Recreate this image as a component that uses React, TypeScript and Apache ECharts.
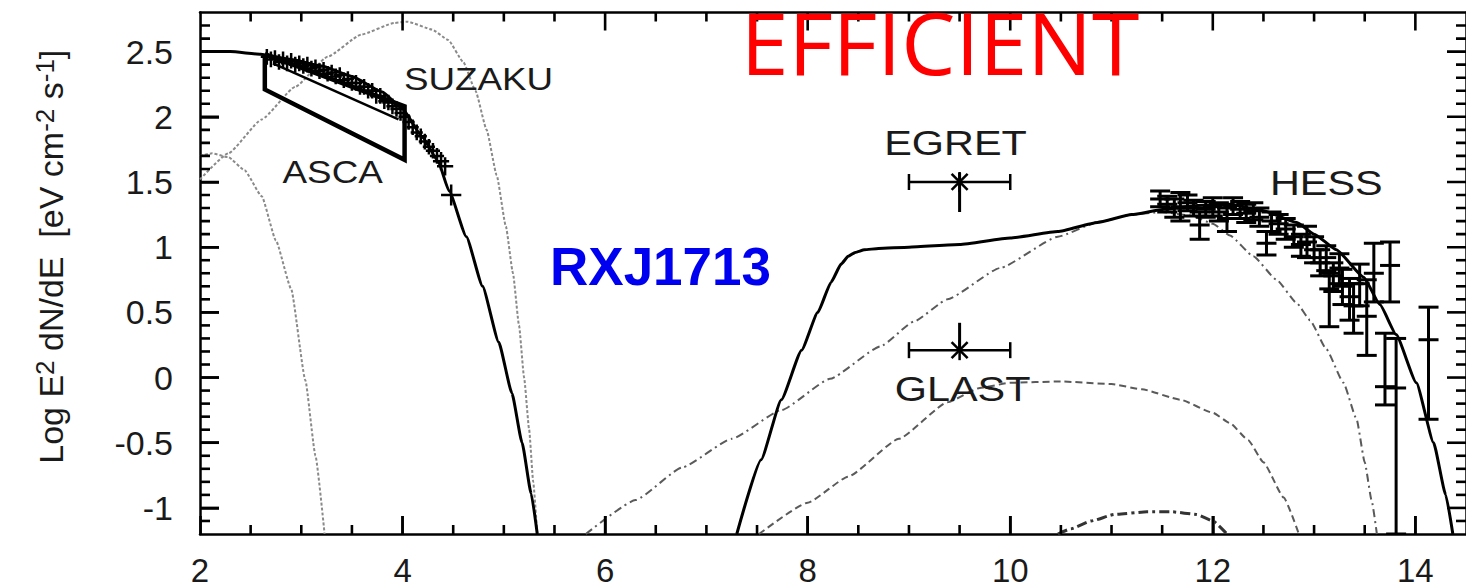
import React, { useEffect, useRef } from "react";
import * as echarts from "echarts";

// ---------- axis ranges / ticks ----------
const X_MIN = 2;
const X_MAX = 14.5;
const Y_MIN = -1.2;
const Y_MAX = 2.8;
const X_MAJOR = [2, 4, 6, 8, 10, 12, 14];
const X_MINOR = [2.5, 3, 3.5, 4.5, 5, 5.5, 6.5, 7, 7.5, 8.5, 9, 9.5, 10.5, 11, 11.5, 12.5, 13, 13.5];
const Y_MAJOR = [-1, -0.5, 0, 0.5, 1, 1.5, 2, 2.5];
const Y_MINOR = [-1.1, -0.9, -0.8, -0.7, -0.6, -0.4, -0.3, -0.2, -0.1, 0.1, 0.2, 0.3, 0.4, 0.6, 0.7, 0.8, 0.9,
  1.1, 1.2, 1.3, 1.4, 1.6, 1.7, 1.8, 1.9, 2.1, 2.2, 2.3, 2.4, 2.6, 2.7];

// ---------- model curves ----------
const MODEL_LOW_X = [2.0, 2.3, 2.6, 2.9, 3.2, 3.5, 3.8, 4.0, 4.2, 4.35, 4.46, 4.63, 4.79, 4.95, 5.08, 5.18, 5.27, 5.33];
const MODEL_LOW_Y = [2.50, 2.50, 2.48, 2.44, 2.39, 2.31, 2.19, 2.06, 1.84, 1.66, 1.43, 1.08, 0.70, 0.27, -0.12, -0.50, -0.89, -1.2];

const MODEL_HIGH_X = [7.30, 7.54, 7.74, 7.94, 8.10, 8.23, 8.33, 8.40, 8.47, 8.56, 8.7, 9.0, 9.5, 10.0, 10.47, 10.86, 11.2, 11.52, 11.85,
  12.17, 12.5, 12.83, 13.0, 13.22, 13.49, 13.65, 13.81, 14.01, 14.18, 14.30, 14.37];
const MODEL_HIGH_Y = [-1.2, -0.63, -0.17, 0.21, 0.50, 0.73, 0.87, 0.93, 0.96, 0.98, 0.99, 1.0, 1.02, 1.07, 1.12, 1.19, 1.25, 1.29, 1.32,
  1.33, 1.28, 1.19, 1.10, 0.98, 0.77, 0.56, 0.33, -0.04, -0.50, -0.90, -1.2];

const SYNCH_WIDE_X = [2.0, 2.28, 2.61, 2.94, 3.26, 3.59, 3.92, 4.05, 4.29, 4.45, 4.60, 4.72, 4.83, 4.93, 5.02, 5.09, 5.15, 5.20, 5.25, 5.29, 5.33];
const SYNCH_WIDE_Y = [1.52, 1.72, 1.98, 2.23, 2.46, 2.63, 2.72, 2.73, 2.67, 2.59, 2.42, 2.20, 1.90, 1.55, 1.16, 0.80, 0.40, 0.0, -0.40, -0.80, -1.2];

const SYNCH_NARROW_X = [2.0, 2.12, 2.28, 2.44, 2.61, 2.75, 2.90, 3.04, 3.14, 3.23];
const SYNCH_NARROW_Y = [1.70, 1.72, 1.69, 1.59, 1.39, 1.05, 0.68, -0.02, -0.60, -1.2];

const IC_UPPER_X = [5.81, 6.3, 6.76, 7.25, 7.74, 8.22, 8.72, 9.05, 9.38, 9.9, 10.47, 10.86, 11.2, 11.5, 11.8, 12.0, 12.17,
  12.4, 12.63, 12.83, 12.96, 13.12, 13.29, 13.42, 13.50, 13.57, 13.62];
const IC_UPPER_Y = [-1.2, -0.94, -0.69, -0.47, -0.25, -0.01, 0.24, 0.43, 0.60, 0.84, 1.08, 1.19, 1.25, 1.27, 1.24, 1.18, 1.09,
  0.93, 0.75, 0.57, 0.44, 0.22, -0.04, -0.32, -0.65, -0.95, -1.2];

const IC_LOWER_X = [7.52, 8.0, 8.40, 8.9, 9.38, 9.7, 10.0, 10.5, 11.0, 11.3, 11.68, 12.0, 12.17, 12.35, 12.5, 12.7, 12.85];
const IC_LOWER_Y = [-1.2, -0.96, -0.76, -0.47, -0.19, -0.08, -0.04, -0.03, -0.05, -0.09, -0.17, -0.27, -0.35, -0.48, -0.65, -0.92, -1.2];

const HUMP_X = [10.47, 10.6, 10.8, 11.03, 11.35, 11.6, 11.84, 12.0, 12.14];
const HUMP_Y = [-1.2, -1.16, -1.10, -1.05, -1.03, -1.03, -1.05, -1.10, -1.2];

// ---------- ASCA bow-tie ----------
const ASCA_X = [2.64, 4.02, 4.02, 2.64, 2.64];
const ASCA_Y = [2.48, 2.08, 1.67, 2.21, 2.48];
const ASCA_INNER_X = [2.72, 3.96];
const ASCA_INNER_Y = [2.41, 1.98];

// ---------- SUZAKU data ----------
const SUZAKU_X = [2.66, 2.70, 2.74, 2.78, 2.82, 2.86, 2.90, 2.94, 2.98, 3.02, 3.06, 3.10, 3.14, 3.18, 3.22, 3.26, 3.30,
  3.34, 3.38, 3.42, 3.46, 3.50, 3.54, 3.58, 3.62, 3.66, 3.70, 3.74, 3.78, 3.82, 3.86, 3.90, 3.94, 3.98, 4.02, 4.06,
  4.10, 4.14, 4.18, 4.22, 4.26, 4.30, 4.34, 4.38, 4.42, 4.48];
const SUZAKU_Y = [2.46, 2.44, 2.45, 2.42, 2.44, 2.41, 2.43, 2.40, 2.41, 2.39, 2.40, 2.37, 2.38, 2.35, 2.36, 2.33, 2.34,
  2.31, 2.32, 2.28, 2.29, 2.26, 2.26, 2.23, 2.23, 2.20, 2.20, 2.16, 2.16, 2.12, 2.11, 2.08, 2.06, 2.03, 2.00, 1.96,
  1.92, 1.88, 1.85, 1.81, 1.77, 1.74, 1.70, 1.66, 1.62, 1.40];
const SUZAKU_XERR = [0.06, 0.06, 0.06, 0.06, 0.06, 0.06, 0.06, 0.06, 0.06, 0.06, 0.06, 0.06, 0.06, 0.06, 0.06, 0.06, 0.06,
  0.06, 0.06, 0.06, 0.06, 0.06, 0.06, 0.06, 0.06, 0.06, 0.06, 0.06, 0.06, 0.06, 0.06, 0.06, 0.06, 0.06, 0.06, 0.06,
  0.06, 0.06, 0.06, 0.06, 0.06, 0.07, 0.07, 0.08, 0.08, 0.10];
const SUZAKU_YERR = [0.06, 0.06, 0.06, 0.06, 0.06, 0.06, 0.06, 0.06, 0.06, 0.06, 0.06, 0.06, 0.06, 0.06, 0.06, 0.06, 0.06,
  0.06, 0.06, 0.06, 0.06, 0.06, 0.06, 0.06, 0.06, 0.06, 0.06, 0.06, 0.06, 0.06, 0.06, 0.06, 0.06, 0.06, 0.06, 0.06,
  0.06, 0.06, 0.06, 0.06, 0.06, 0.06, 0.06, 0.07, 0.07, 0.08];

// ---------- HESS data ----------
const HESS_X = [11.48, 11.55, 11.62, 11.68, 11.75, 11.81, 11.87, 11.93, 12.00, 12.06, 12.14, 12.20, 12.27, 12.33, 12.40,
  12.46, 12.53, 12.58, 12.65, 12.72, 12.80, 12.87, 12.93, 13.00, 13.06, 13.12, 13.15, 13.19, 13.25, 13.28, 13.35, 13.39,
  13.45, 13.52, 13.59, 13.70, 13.75, 13.81, 14.13];
const HESS_Y = [1.37, 1.33, 1.30, 1.31, 1.34, 1.30, 1.17, 1.29, 1.31, 1.27, 1.22, 1.32, 1.29, 1.26, 1.28,
  1.23, 1.03, 1.20, 1.18, 1.14, 1.08, 1.02, 1.04, 0.98, 0.88, 0.92, 0.68, 0.78, 0.84, 0.70, 0.62, 0.55,
  0.72, 0.47, 0.80, -0.07, 0.86, -0.08, 0.29];
const HESS_LO = [1.31, 1.27, 1.23, 1.20, 1.28, 1.24, 1.06, 1.23, 1.24, 1.20, 1.12, 1.25, 1.22, 1.19, 1.21,
  1.16, 0.94, 1.12, 1.10, 1.06, 1.00, 0.93, 0.92, 0.88, 0.78, 0.82, 0.39, 0.66, 0.72, 0.56, 0.44, 0.34,
  0.55, 0.17, 0.58, -0.21, 0.58, -1.2, -0.32];
const HESS_HI = [1.43, 1.39, 1.37, 1.42, 1.40, 1.36, 1.27, 1.35, 1.38, 1.34, 1.30, 1.38, 1.35, 1.33, 1.34,
  1.30, 1.12, 1.27, 1.25, 1.22, 1.17, 1.10, 1.16, 1.08, 0.98, 1.01, 0.80, 0.88, 0.95, 0.83, 0.76, 0.72,
  0.87, 0.75, 1.03, 0.34, 1.04, 0.30, 0.54];

// ---------- EGRET / GLAST ----------
const GAMMA_NAMES = ["EGRET", "GLAST"];
const GAMMA_X = [9.5, 9.5];
const GAMMA_Y = [1.50, 0.21];
const GAMMA_XLO = [9.0, 9.0];
const GAMMA_XHI = [10.0, 10.0];
const GAMMA_YLO = [1.27, 0.21];
const GAMMA_YHI = [1.57, 0.42];

// ---------- annotation labels ----------
const LABEL_TEXT = ["SUZAKU", "ASCA", "EGRET", "GLAST", "HESS"];
const LABEL_X = [4.75, 3.31, 9.46, 9.53, 13.12];
const LABEL_Y = [2.29, 1.58, 1.80, -0.08, 1.50];
const LABEL_SIZE = [32, 32, 36, 36, 36];

const FONT = '"Liberation Sans", Arial, sans-serif';
const zip = (xs: number[], ys: number[]) => xs.map((x, i) => [x, ys[i]]);

function lineSeries(name: string, xs: number[], ys: number[], style: any, extra: any = {}) {
  return {
    name,
    type: "line",
    data: zip(xs, ys),
    symbol: "none",
    smooth: 0.15,
    smoothMonotone: "x",
    lineStyle: style,
    z: 3,
    silent: true,
    ...extra,
  };
}

const LINE_STYLE = { color: "#000", width: 2.5 };

// plot layout (pixels)
const GRID_LEFT = 200;
const GRID_TOP = 12.5;
const GRID_W = 1270;
const GRID_H = 521.5;

export default function App() {
  const ref = useRef<HTMLDivElement>(null);

  useEffect(() => {
    if (!ref.current) return;
    const chart = echarts.init(ref.current, null, { renderer: "svg" });

    const barStyle = { stroke: "#000", lineWidth: 3 };

    // tick rows: [x, y, kind (0 = x tick, 1 = y tick), side (0 = low, 1 = high), length px]
    const tickRows: number[][] = [];
    X_MAJOR.forEach((v) => { tickRows.push([v, Y_MIN, 0, 0, 18]); tickRows.push([v, Y_MAX, 0, 1, 18]); });
    X_MINOR.forEach((v) => { tickRows.push([v, Y_MIN, 0, 0, 9]); tickRows.push([v, Y_MAX, 0, 1, 9]); });
    Y_MAJOR.forEach((v) => { tickRows.push([X_MIN, v, 1, 0, 19]); tickRows.push([X_MAX, v, 1, 1, 19]); });
    Y_MINOR.forEach((v) => { tickRows.push([X_MIN, v, 1, 0, 10]); tickRows.push([X_MAX, v, 1, 1, 10]); });

    const option: any = {
      animation: false,
      backgroundColor: "#ffffff",
      grid: { left: GRID_LEFT, top: GRID_TOP, width: GRID_W, height: GRID_H },
      xAxis: [
        {
          type: "value",
          position: "bottom",
          min: X_MIN,
          max: X_MAX,
          axisLine: { show: true, onZero: false, lineStyle: LINE_STYLE },
          axisTick: { show: true, inside: true, length: 18, customValues: X_MAJOR, lineStyle: { color: "#000", width: 2.5 } },
          minorTick: { show: false },
          axisLabel: {
            show: true,
            customValues: X_MAJOR,
            fontSize: 33,
            lineHeight: 30,
            fontFamily: FONT,
            color: "#1a1a1a",
            margin: 21,
          },
          splitLine: { show: false },
        },
        {
          type: "value",
          position: "top",
          min: X_MIN,
          max: X_MAX,
          axisLine: { show: true, onZero: false, lineStyle: LINE_STYLE },
          axisTick: { show: false },
          axisLabel: { show: false },
          splitLine: { show: false },
        },
      ],
      yAxis: [
        {
          type: "value",
          position: "left",
          min: Y_MIN,
          max: Y_MAX,
          axisLine: { show: true, onZero: false, lineStyle: LINE_STYLE },
          axisTick: { show: true, inside: true, length: 19, customValues: Y_MAJOR, lineStyle: { color: "#000", width: 2.5 } },
          minorTick: { show: false },
          axisLabel: {
            show: true,
            customValues: Y_MAJOR,
            fontSize: 34,
            fontFamily: FONT,
            color: "#1a1a1a",
            margin: 27,
          },
          splitLine: { show: false },
          name: "{m|Log E}{s|2}{m| dN/dE  [eV cm}{s|-2}{m| s}{s|-1}{m|]}",
          nameLocation: "middle",
          nameRotate: 90,
          nameGap: 132,
          nameTextStyle: {
            fontFamily: FONT,
            color: "#1a1a1a",
            padding: [0, 0, 0, 33],
            rich: {
              m: { fontSize: 34, lineHeight: 36, verticalAlign: "bottom", fontFamily: FONT, color: "#1a1a1a" },
              s: { fontSize: 26, lineHeight: 26, verticalAlign: "top", padding: [0, 0, 29, 0], fontFamily: FONT, color: "#1a1a1a" },
            },
          },
        },
        {
          type: "value",
          position: "right",
          min: Y_MIN,
          max: Y_MAX,
          axisLine: { show: true, onZero: false, lineStyle: LINE_STYLE },
          axisTick: { show: false },
          axisLabel: { show: false },
          splitLine: { show: false },
        },
      ],
      graphic: [
        {
          type: "text",
          x: 940,
          y: 41,
          z: 100,
          style: {
            text: "EFFICIENT",
            fontSize: 86,
            lineHeight: 62,
            fontFamily: '"Open Sans", sans-serif',
            fill: "#ff0000",
            align: "center",
            verticalAlign: "middle",
            textAlign: "center",
            textVerticalAlign: "middle",
          },
        },
        {
          type: "text",
          x: 550,
          y: 266,
          z: 100,
          style: {
            text: "RXJ1713",
            fontSize: 53,
            fontWeight: "bold",
            fontFamily: FONT,
            fill: "#0000f0",
            align: "left",
            verticalAlign: "middle",
            textAlign: "left",
            textVerticalAlign: "middle",
          },
        },
      ],
      series: [
        lineSeries("synchWide", SYNCH_WIDE_X, SYNCH_WIDE_Y, { color: "#8a8a8a", width: 2, type: [3, 2] }),
        lineSeries("synchNarrow", SYNCH_NARROW_X, SYNCH_NARROW_Y, { color: "#8a8a8a", width: 2, type: [3, 2] }),
        lineSeries("icUpper", IC_UPPER_X, IC_UPPER_Y, { color: "#5a5a5a", width: 2, type: [8, 4, 2, 4] }),
        lineSeries("icLower", IC_LOWER_X, IC_LOWER_Y, { color: "#5a5a5a", width: 2, type: [7, 4] }),
        lineSeries("hump", HUMP_X, HUMP_Y, { color: "#333", width: 3, type: [10, 4, 3, 4] }),
        lineSeries("modelLow", MODEL_LOW_X, MODEL_LOW_Y, { color: "#000", width: 3 }, { z: 4 }),
        lineSeries("modelHigh", MODEL_HIGH_X, MODEL_HIGH_Y, { color: "#000", width: 3 }, { z: 4 }),
        {
          name: "ASCA",
          type: "line",
          data: zip(ASCA_X, ASCA_Y),
          symbol: "none",
          lineStyle: { color: "#000", width: 4.5, join: "miter" },
          z: 5,
        },
        {
          name: "ASCAinner",
          type: "line",
          data: zip(ASCA_INNER_X, ASCA_INNER_Y),
          symbol: "none",
          lineStyle: { color: "#000", width: 2.5 },
          z: 5,
        },
        {
          name: "SUZAKU",
          type: "custom",
          clip: true,
          z: 6,
          data: SUZAKU_X.map((x, i) => [x, SUZAKU_Y[i], SUZAKU_XERR[i], SUZAKU_YERR[i]]),
          renderItem: (params: any, api: any) => {
            const x = api.value(0), y = api.value(1), xe = api.value(2), ye = api.value(3);
            const l = api.coord([x - xe, y]);
            const r = api.coord([x + xe, y]);
            const t = api.coord([x, y + ye]);
            const b = api.coord([x, y - ye]);
            const st = { stroke: "#000", lineWidth: 2.5 };
            return {
              type: "group",
              children: [
                { type: "line", shape: { x1: l[0], y1: l[1], x2: r[0], y2: r[1] }, style: st },
                { type: "line", shape: { x1: t[0], y1: t[1], x2: b[0], y2: b[1] }, style: st },
              ],
            };
          },
        },
        {
          name: "HESS",
          type: "custom",
          clip: true,
          z: 6,
          data: HESS_X.map((x, i) => [x, HESS_Y[i], HESS_LO[i], HESS_HI[i]]),
          renderItem: (params: any, api: any) => {
            const x = api.value(0), y = api.value(1), lo = api.value(2), hi = api.value(3);
            const c = api.coord([x, y]);
            const pl = api.coord([x, lo]);
            const ph = api.coord([x, hi]);
            const cap = 10;
            return {
              type: "group",
              children: [
                { type: "line", shape: { x1: c[0], y1: pl[1], x2: c[0], y2: ph[1] }, style: barStyle },
                { type: "line", shape: { x1: c[0] - cap, y1: pl[1], x2: c[0] + cap, y2: pl[1] }, style: barStyle },
                { type: "line", shape: { x1: c[0] - cap, y1: ph[1], x2: c[0] + cap, y2: ph[1] }, style: barStyle },
                { type: "line", shape: { x1: c[0] - cap, y1: c[1], x2: c[0] + cap, y2: c[1] }, style: barStyle },
              ],
            };
          },
        },
        {
          name: "frameTicks",
          type: "custom",
          clip: true,
          z: 6,
          data: tickRows,
          renderItem: (params: any, api: any) => {
            const p = api.coord([api.value(0), api.value(1)]);
            const kind = api.value(2);
            const side = api.value(3);
            const len = api.value(4);
            const w = 2.6;
            let shape;
            if (kind === 0) {
              // vertical tick: bottom side goes up, top side goes down
              shape = side === 0
                ? { x: p[0] - w / 2, y: p[1] - len, width: w, height: len }
                : { x: p[0] - w / 2, y: p[1], width: w, height: len };
            } else {
              // horizontal tick: left side goes right, right side goes left
              shape = side === 0
                ? { x: p[0], y: p[1] - w / 2, width: len, height: w }
                : { x: p[0] - len, y: p[1] - w / 2, width: len, height: w };
            }
            return { type: "rect", shape, style: { fill: "#000000" } };
          },
        },
        {
          name: "gamma",
          type: "custom",
          clip: true,
          z: 6,
          data: GAMMA_NAMES.map((n, i) => ({
            name: n,
            value: [GAMMA_X[i], GAMMA_Y[i], GAMMA_XLO[i], GAMMA_XHI[i], GAMMA_YLO[i], GAMMA_YHI[i]],
          })),
          renderItem: (params: any, api: any) => {
            const c = api.coord([api.value(0), api.value(1)]);
            const xl = api.coord([api.value(2), api.value(1)]);
            const xh = api.coord([api.value(3), api.value(1)]);
            const yl = api.coord([api.value(0), api.value(4)]);
            const yh = api.coord([api.value(0), api.value(5)]);
            const st = { stroke: "#000", lineWidth: 2.5 };
            const vs = { stroke: "#000", lineWidth: 3 };
            const cap = 8;
            const s = 8;
            return {
              type: "group",
              children: [
                { type: "line", shape: { x1: xl[0], y1: c[1], x2: xh[0], y2: c[1] }, style: st },
                { type: "line", shape: { x1: xl[0], y1: c[1] - cap, x2: xl[0], y2: c[1] + cap }, style: st },
                { type: "line", shape: { x1: xh[0], y1: c[1] - cap, x2: xh[0], y2: c[1] + cap }, style: st },
                { type: "line", shape: { x1: c[0], y1: yl[1], x2: c[0], y2: yh[1] }, style: vs },
                { type: "line", shape: { x1: c[0] - s, y1: c[1] - s, x2: c[0] + s, y2: c[1] + s }, style: st },
                { type: "line", shape: { x1: c[0] - s, y1: c[1] + s, x2: c[0] + s, y2: c[1] - s }, style: st },
                { type: "line", shape: { x1: c[0], y1: c[1] - s - 2, x2: c[0], y2: c[1] + s + 2 }, style: st },
              ],
            };
          },
        },
        {
          name: "labels",
          type: "custom",
          clip: false,
          z: 7,
          silent: true,
          data: LABEL_TEXT.map((t, i) => ({ name: t, value: [LABEL_X[i], LABEL_Y[i]] })),
          renderItem: (params: any, api: any) => {
            const i = params.dataIndex;
            const p = api.coord([api.value(0), api.value(1)]);
            return {
              type: "text",
              x: p[0],
              y: p[1],
              scaleX: 1.15,
              style: {
                text: LABEL_TEXT[i],
                fontSize: LABEL_SIZE[i],
                fontFamily: FONT,
                fill: "#1a1a1a",
                align: "center",
                verticalAlign: "middle",
                textAlign: "center",
                textVerticalAlign: "middle",
              },
            };
          },
        },
      ],
    };

    chart.setOption(option);
    return () => chart.dispose();
  }, []);

  return (
    <div
      ref={ref}
      style={{ position: "fixed", left: 0, top: 0, width: 1466, height: 587, background: "#fff" }}
    />
  );
}
